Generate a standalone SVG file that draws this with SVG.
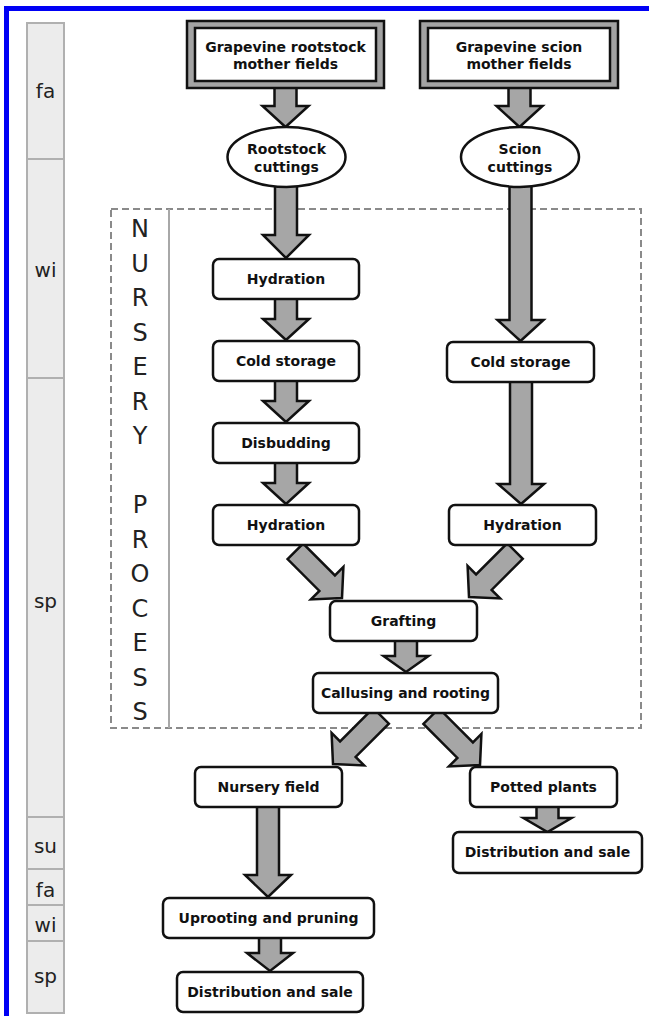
<svg xmlns="http://www.w3.org/2000/svg" width="649" height="1016" viewBox="0 0 649 1016">
<style>
.box{fill:#fff;stroke:#111;stroke-width:2.5}
.lbl{font-family:"DejaVu Sans",Verdana,sans-serif;font-weight:bold;font-size:14px;fill:#111;text-anchor:middle}
.arr{fill:#a6a6a6;stroke:#111;stroke-width:2.5;stroke-linejoin:miter}
.seg{fill:#ececec;stroke:#b0b0b0;stroke-width:2}
.season{font-family:"DejaVu Sans",Verdana,sans-serif;font-size:20px;fill:#222;text-anchor:middle}
.vert{font-family:"DejaVu Sans",Verdana,sans-serif;font-size:24px;fill:#222;text-anchor:middle}
</style>
<rect x="0" y="0" width="649" height="1016" fill="#fff"/>
<g id="frame">
<rect x="4" y="6" width="645" height="5" fill="#0000f5"/>
<rect x="4" y="6" width="5" height="1010" fill="#0000f5"/>
</g>
<g id="timeline">
<rect class="seg" x="27" y="23" width="37" height="136"/>
<rect class="seg" x="27" y="159" width="37" height="219"/>
<rect class="seg" x="27" y="378" width="37" height="439"/>
<rect class="seg" x="27" y="817" width="37" height="52"/>
<rect class="seg" x="27" y="869" width="37" height="36"/>
<rect class="seg" x="27" y="905" width="37" height="36"/>
<rect class="seg" x="27" y="941" width="37" height="72"/>
<text class="season" x="45.5" y="98">fa</text>
<text class="season" x="45.5" y="277">wi</text>
<text class="season" x="45.5" y="608">sp</text>
<text class="season" x="45.5" y="853">su</text>
<text class="season" x="45.5" y="897">fa</text>
<text class="season" x="45.5" y="932">wi</text>
<text class="season" x="45.5" y="983">sp</text>
</g>
<g id="nursery-process">
<rect x="111" y="209" width="530" height="519" fill="none" stroke="#8a8a8a" stroke-width="2" stroke-dasharray="7 4"/>
<line x1="169" y1="209" x2="169" y2="728" stroke="#a8a8a8" stroke-width="2"/>
<text class="vert"><tspan x="140" y="237">N</tspan><tspan x="140" dy="34.5">U</tspan><tspan x="140" dy="34.5">R</tspan><tspan x="140" dy="34.5">S</tspan><tspan x="140" dy="34.5">E</tspan><tspan x="140" dy="34.5">R</tspan><tspan x="140" dy="34.5">Y</tspan><tspan x="140" dy="69">P</tspan><tspan x="140" dy="34.5">R</tspan><tspan x="140" dy="34.5">O</tspan><tspan x="140" dy="34.5">C</tspan><tspan x="140" dy="34.5">E</tspan><tspan x="140" dy="34.5">S</tspan><tspan x="140" dy="34.5">S</tspan></text>
</g>
<g id="connectors">
<path class="arr" d="M274.5,86 L296.5,86 L296.5,106 L308.5,106 L285.5,127 L262.5,106 L274.5,106 Z"/>
<path class="arr" d="M508.5,86 L530.5,86 L530.5,106 L542.5,106 L519.5,127 L496.5,106 L508.5,106 Z"/>
<path class="arr" d="M275,185 L297,185 L297,235 L309,235 L286,258 L263,235 L275,235 Z"/>
<path class="arr" d="M509.5,185 L531.5,185 L531.5,320 L543.5,320 L520.5,341 L497.5,320 L509.5,320 Z"/>
<path class="arr" d="M275,297 L297,297 L297,319 L309,319 L286,340 L263,319 L275,319 Z"/>
<path class="arr" d="M275,379 L297,379 L297,401 L309,401 L286,422 L263,401 L275,401 Z"/>
<path class="arr" d="M275,461 L297,461 L297,483 L309,483 L286,504 L263,483 L275,483 Z"/>
<path class="arr" d="M510,380 L532,380 L532,484 L544,484 L521,504 L498,484 L510,484 Z"/>
<path class="arr" d="M395,639 L417,639 L417,656 L428.5,656 L406,672 L383.5,656 L395,656 Z"/>
<path class="arr" d="M257,805 L279,805 L279,875 L291,875 L268,897 L245,875 L257,875 Z"/>
<path class="arr" d="M259,936 L281,936 L281,953 L293,953 L270,971 L247,953 L259,953 Z"/>
<path class="arr" d="M536.5,805 L558.5,805 L558.5,818 L571.5,818 L547.5,832 L523.5,818 L536.5,818 Z"/>
<path class="arr" transform="translate(342,598) rotate(-45)" d="M-11,-66 L11,-66 L11,-21 L23,-21 L0,0 L-23,-21 L-11,-21 Z"/>
<path class="arr" transform="translate(469,597) rotate(45)" d="M-11,-65 L11,-65 L11,-21 L23,-21 L0,0 L-23,-21 L-11,-21 Z"/>
<path class="arr" transform="translate(333,764) rotate(45)" d="M-11,-68 L11,-68 L11,-21 L23,-21 L0,0 L-23,-21 L-11,-21 Z"/>
<path class="arr" transform="translate(480,765) rotate(-45)" d="M-11,-69 L11,-69 L11,-21 L23,-21 L0,0 L-23,-21 L-11,-21 Z"/>
</g>
<g id="rootstock-mother-fields">
<rect x="187" y="21" width="197" height="67" fill="#a3a3a3" stroke="#111" stroke-width="2.5"/>
<rect class="box" x="195" y="28" width="181" height="53"/>
<text class="lbl" x="285.5" y="52">Grapevine rootstock</text>
<text class="lbl" x="285.5" y="69">mother fields</text>
</g>
<g id="scion-mother-fields">
<rect x="420" y="21" width="198" height="67" fill="#a3a3a3" stroke="#111" stroke-width="2.5"/>
<rect class="box" x="428" y="28" width="182" height="53"/>
<text class="lbl" x="519" y="52">Grapevine scion</text>
<text class="lbl" x="519" y="69">mother fields</text>
</g>
<g id="rootstock-cuttings">
<ellipse class="box" cx="286.5" cy="157" rx="59" ry="30"/>
<text class="lbl" x="286.5" y="154">Rootstock</text>
<text class="lbl" x="286.5" y="172">cuttings</text>
</g>
<g id="scion-cuttings">
<ellipse class="box" cx="520" cy="157" rx="59" ry="30"/>
<text class="lbl" x="520" y="154">Scion</text>
<text class="lbl" x="520" y="172">cuttings</text>
</g>
<g id="hydration-rootstock-1">
<rect class="box" x="213" y="259" width="146" height="40" rx="6"/>
<text class="lbl" x="286" y="284">Hydration</text>
</g>
<g id="cold-storage-rootstock">
<rect class="box" x="213" y="341" width="146" height="40" rx="6"/>
<text class="lbl" x="286" y="366">Cold storage</text>
</g>
<g id="disbudding">
<rect class="box" x="213" y="423" width="146" height="40" rx="6"/>
<text class="lbl" x="286" y="448">Disbudding</text>
</g>
<g id="hydration-rootstock-2">
<rect class="box" x="213" y="505" width="146" height="40" rx="6"/>
<text class="lbl" x="286" y="530">Hydration</text>
</g>
<g id="cold-storage-scion">
<rect class="box" x="447" y="342" width="147" height="40" rx="6"/>
<text class="lbl" x="520.5" y="367">Cold storage</text>
</g>
<g id="hydration-scion">
<rect class="box" x="449" y="505" width="147" height="40" rx="6"/>
<text class="lbl" x="522.5" y="530">Hydration</text>
</g>
<g id="grafting">
<rect class="box" x="330" y="601" width="147" height="40" rx="6"/>
<text class="lbl" x="403.5" y="626">Grafting</text>
</g>
<g id="callusing-rooting">
<rect class="box" x="313" y="673" width="185" height="40" rx="6"/>
<text class="lbl" x="405.5" y="698">Callusing and rooting</text>
</g>
<g id="nursery-field">
<rect class="box" x="195" y="767" width="147" height="40" rx="6"/>
<text class="lbl" x="268.5" y="792">Nursery field</text>
</g>
<g id="potted-plants">
<rect class="box" x="470" y="767" width="147" height="40" rx="6"/>
<text class="lbl" x="543.5" y="792">Potted plants</text>
</g>
<g id="uprooting-pruning">
<rect class="box" x="163" y="898" width="211" height="40" rx="6"/>
<text class="lbl" x="268.5" y="923">Uprooting and pruning</text>
</g>
<g id="distribution-sale-field">
<rect class="box" x="177" y="972" width="186" height="40" rx="6"/>
<text class="lbl" x="270" y="997">Distribution and sale</text>
</g>
<g id="distribution-sale-potted">
<rect class="box" x="453" y="832" width="189" height="41" rx="6"/>
<text class="lbl" x="547.5" y="857">Distribution and sale</text>
</g>
</svg>
